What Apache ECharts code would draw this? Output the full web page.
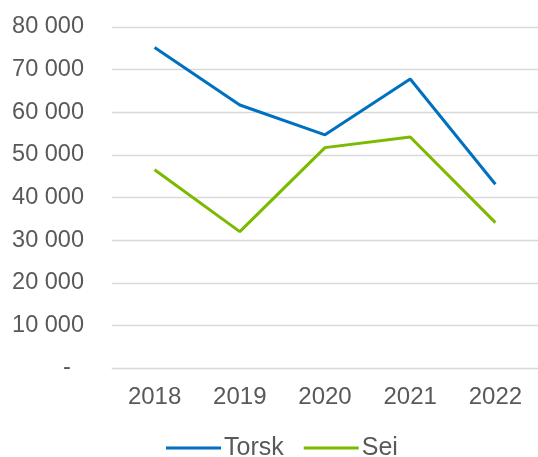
<!DOCTYPE html>
<html>
<head>
<meta charset="utf-8">
<script src="https://cdn.jsdelivr.net/npm/echarts@6/dist/echarts.min.js"></script>
<style>
  html, body { margin: 0; padding: 0; background: #fff; }
  #chart { width: 538px; height: 457px; }
</style>
</head>
<body>
<div id="chart"></div>
<script>
// 数据
const years = ['2018', '2019', '2020', '2021', '2022'];
const torsk = [75200, 61700, 54700, 67800, 43100];
const sei = [46500, 32000, 51700, 54200, 34100];

const FONT = '"Liberation Sans", Arial, sans-serif';
const TXT = '#595959';

function fmtNum(v) {
  if (v === 0) return '-  ';
  return String(v).replace(/\B(?=(\d{3})+(?!\d))/g, ' ');
}

const chart = echarts.init(document.getElementById('chart'));
chart.setOption({
  animation: false,
  textStyle: { fontFamily: FONT },
  grid: { left: 112, right: -3, top: 27, bottom: 89, containLabel: false },
  legend: {
    top: 434,
    left: 166,
    padding: 0,
    itemWidth: 55,
    itemHeight: 3,
    itemGap: 20,
    icon: 'rect',
    textStyle: { fontSize: 25, lineHeight: 28, color: TXT, fontFamily: FONT, padding: [0, 0, 0, -2] },
    data: ['Torsk', 'Sei']
  },
  xAxis: {
    type: 'category',
    data: years,
    boundaryGap: true,
    axisLine: { lineStyle: { color: '#d9d9d9', width: 1 } },
    axisTick: { show: false },
    axisLabel: { fontSize: 24, color: TXT, margin: 17, fontFamily: FONT }
  },
  yAxis: {
    type: 'value',
    min: 0,
    max: 80000,
    interval: 10000,
    axisLine: { show: false },
    axisTick: { show: false },
    splitLine: { lineStyle: { color: '#d9d9d9', width: 1.3 } },
    axisLabel: { fontSize: 23.5, color: TXT, margin: 28, fontFamily: FONT, formatter: fmtNum }
  },
  series: [
    {
      name: 'Torsk',
      type: 'line',
      data: torsk,
      symbol: 'none',
      lineStyle: { color: '#0070C0', width: 3 },
      itemStyle: { color: '#0070C0' }
    },
    {
      name: 'Sei',
      type: 'line',
      data: sei,
      symbol: 'none',
      lineStyle: { color: '#7CBA00', width: 3 },
      itemStyle: { color: '#7CBA00' }
    }
  ]
});
</script>
</body>
</html>
